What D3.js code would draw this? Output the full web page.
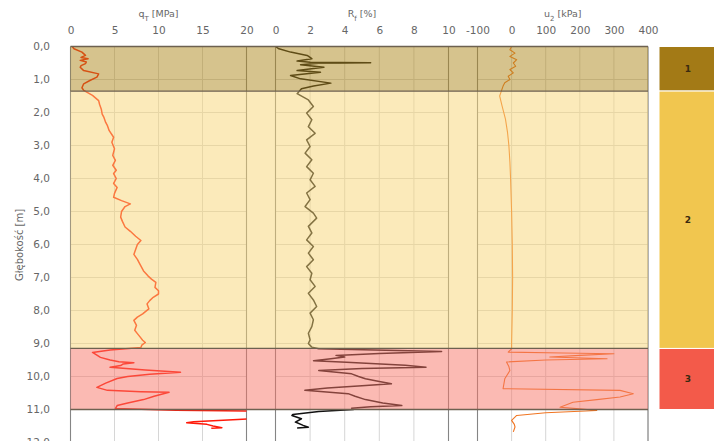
<!DOCTYPE html>
<html>
<head>
<meta charset="utf-8">
<script src="https://cdnjs.cloudflare.com/ajax/libs/d3/7.8.5/d3.min.js"></script>
<style>
body { margin: 0; background: #fff; }
svg text { font-family: "DejaVu Sans", sans-serif; }
</style>
</head>
<body>
<svg id="chart" width="714" height="441"></svg>
<script>
//CPT sounding: [depth m, value]
var qcData = [[0.00,0.2],[0.07,0.4],[0.17,1.3],[0.27,1.7],[0.33,1.2],[0.37,2.0],[0.42,1.1],[0.47,1.8],[0.52,1.7],[0.58,1.2],[0.63,1.1],[0.73,1.5],[0.83,3.2],[0.93,3.0],[1.03,2.2],[1.13,1.5],[1.25,1.3],[1.33,1.5],[1.48,2.5],[1.64,3.2],[1.75,3.3],[1.9,3.5],[2.05,3.6],[2.15,3.8],[2.3,4.0],[2.4,4.2],[2.55,4.4],[2.75,4.9],[2.9,4.7],[3.1,5.0],[3.3,4.8],[3.45,5.1],[3.6,4.8],[3.75,5.2],[3.85,4.9],[4.0,5.2],[4.15,4.9],[4.27,5.3],[4.45,5.0],[4.57,4.9],[4.67,5.8],[4.77,6.8],[4.85,6.2],[5.0,5.8],[5.17,5.7],[5.3,5.9],[5.47,6.2],[5.6,6.8],[5.75,7.4],[5.88,8.0],[6.0,7.6],[6.15,7.4],[6.3,7.2],[6.45,7.6],[6.6,7.9],[6.8,8.3],[6.95,8.8],[7.05,9.2],[7.15,9.7],[7.3,9.6],[7.4,10.0],[7.5,10.0],[7.6,9.4],[7.7,9.0],[7.8,8.7],[7.95,8.9],[8.1,8.2],[8.2,7.6],[8.3,7.2],[8.45,7.5],[8.6,7.3],[8.7,7.6],[8.8,7.9],[8.9,8.2],[8.97,8.5],[9.05,8.1],[9.12,8.0],[9.2,4.5],[9.27,2.5],[9.35,3.0],[9.42,3.4],[9.5,4.5],[9.55,5.5],[9.58,7.2],[9.62,6.0],[9.67,5.7],[9.72,4.5],[9.8,8.5],[9.87,12.5],[9.93,9.0],[10.0,6.5],[10.06,5.3],[10.2,4.0],[10.33,3.0],[10.42,4.2],[10.46,8.0],[10.48,11.2],[10.6,9.5],[10.7,8.3],[10.8,6.5],[10.88,5.3],[10.97,5.1],[11.02,12.0],[11.05,22.0],[11.15,27.0],[11.25,24.0],[11.3,19.0],[11.37,14.0],[11.4,13.2],[11.45,15.5],[11.5,16.2],[11.55,17.2],[11.57,16.0]];

var rfData = [[0.0,0.0],[0.07,0.2],[0.17,0.87],[0.27,1.83],[0.37,2.1],[0.44,1.25],[0.48,2.0],[0.49,5.5],[0.51,2.5],[0.55,1.45],[0.63,2.8],[0.73,1.25],[0.78,2.6],[0.88,0.87],[0.98,1.45],[1.11,3.2],[1.2,2.2],[1.28,1.5],[1.43,1.25],[1.62,1.9],[1.82,2.19],[2.02,1.8],[2.22,2.1],[2.43,1.9],[2.63,2.29],[2.83,1.8],[3.03,2.0],[3.23,1.71],[3.43,2.1],[3.64,1.8],[3.84,2.19],[4.04,2.0],[4.24,2.29],[4.44,1.8],[4.64,2.0],[4.85,1.71],[5.05,2.19],[5.2,2.38],[5.45,1.9],[5.65,2.1],[5.86,1.8],[6.06,2.19],[6.26,1.9],[6.46,2.19],[6.67,1.8],[6.87,2.1],[7.07,2.0],[7.27,2.29],[7.48,1.9],[7.68,2.19],[7.88,2.38],[8.08,2.0],[8.28,2.19],[8.49,2.1],[8.69,1.9],[8.89,2.0],[9.0,1.9],[9.11,2.1],[9.16,2.5],[9.24,9.6],[9.3,6.0],[9.36,3.5],[9.41,4.0],[9.46,3.2],[9.52,2.2],[9.57,4.1],[9.66,7.5],[9.72,8.7],[9.76,5.0],[9.82,2.5],[9.92,4.4],[10.0,4.8],[10.07,5.2],[10.15,6.0],[10.22,6.7],[10.28,5.0],[10.35,3.0],[10.42,1.7],[10.52,4.2],[10.6,4.6],[10.7,5.2],[10.8,6.2],[10.88,7.3],[10.92,5.5],[10.96,4.4],[11.0,4.5],[11.06,2.5],[11.15,1.0],[11.18,0.95],[11.28,1.5],[11.38,1.15],[11.48,1.6],[11.54,1.9],[11.56,1.25]];

var u2Data = [[0.0,0],[0.1,-5],[0.2,10],[0.3,-5],[0.4,15],[0.5,5],[0.6,12],[0.7,-5],[0.8,5],[0.9,-10],[1.0,-5],[1.1,-20],[1.2,-25],[1.35,-30],[1.5,-35],[1.8,-28],[2.2,-18],[2.6,-12],[3.0,-8],[3.5,-5],[4.0,-3],[5.0,0],[6.0,2],[7.0,3],[8.0,2],[9.0,0],[9.16,0],[9.26,-10],[9.29,150],[9.31,300],[9.36,200],[9.41,112],[9.46,280],[9.5,100],[9.56,-15],[9.7,-8],[9.82,-5],[10.07,-20],[10.37,-25],[10.42,318],[10.52,357],[10.62,318],[10.7,250],[10.78,180],[10.93,142],[10.98,200],[11.03,250],[11.1,100],[11.18,15],[11.33,0],[11.45,8],[11.53,10],[11.68,5]];

//soil layers
var layerNames = ["1", "2", "3"];
var layerTop = [0, 1.35, 9.15];
var layerBottom = [1.35, 9.15, 11.0];
var layerColors = ["#a37a16", "#f1c64f", "#f35a4a"];
var bandColors = ["#ad871b", "#f7d575", "#f77567"];

//ticks
var depthTicks = [0,1,2,3,4,5,6,7,8,9,10,11,12];
var qcTicks = [0,5,10,15,20];
var rfTicks = [0,2,4,6,8,10];
var u2Ticks = [-100,0,100,200,300,400];

var svg = d3.select("#chart");

var y = d3.scaleLinear().domain([0, 12]).range([46.5, 442.5]);
var xQc = d3.scaleLinear().domain([0, 20]).range([70.5, 246.5]);
var xRf = d3.scaleLinear().domain([0, 10]).range([275.5, 448.5]);
var xU2 = d3.scaleLinear().domain([-100, 400]).range([477.5, 648]);

var panels = [
    {id: "qc", x: xQc, ticks: qcTicks, data: qcData, color: "#ff1a0a", width: 1.5, title: ["q", "T", " [MPa]"]},
    {id: "rf", x: xRf, ticks: rfTicks, data: rfData, color: "#111", width: 1.5, title: ["R", "f", " [%]"]},
    {id: "u2", x: xU2, ticks: u2Ticks, data: u2Data, color: "#f07522", width: 1.1, title: ["u", "2", " [kPa]"]}
];

var bottom = 450;

panels.forEach(function (p) {
    var x0 = p.x.range()[0], x1 = p.x.range()[1];

    // grid
    svg.append("g").selectAll("line").data(p.ticks).join("line")
        .attr("x1", d => p.x(d)).attr("x2", d => p.x(d))
        .attr("y1", y(0)).attr("y2", bottom)
        .attr("stroke", "#d6d6d6").attr("stroke-width", 1);
    svg.append("g").selectAll("line").data(depthTicks.slice(1)).join("line")
        .attr("x1", x0).attr("x2", x1)
        .attr("y1", d => y(d)).attr("y2", d => y(d))
        .attr("stroke", "#d6d6d6").attr("stroke-width", 1);

    // panel frame
    svg.append("g").selectAll("line").data([x0, x1]).join("line")
        .attr("x1", d => d).attr("x2", d => d)
        .attr("y1", y(0)).attr("y2", bottom)
        .attr("stroke", "#858585").attr("stroke-width", 1.1);

    svg.append("clipPath").attr("id", "clip_" + p.id)
        .append("rect").attr("x", x0).attr("y", y(0) - 2)
        .attr("width", x1 - x0).attr("height", bottom - y(0));

    var line = d3.line()
        .x(d => p.x(d[1]))
        .y(d => y(d[0]));

    svg.append("path").datum(p.data)
        .attr("clip-path", "url(#clip_" + p.id + ")")
        .attr("d", line)
        .attr("fill", "none")
        .attr("stroke", p.color)
        .attr("stroke-width", p.width)
        .attr("stroke-linejoin", "round");

    // tick labels on top
    svg.append("g")
        .attr("transform", "translate(0,34)")
        .call(d3.axisTop(p.x).tickValues(p.ticks).tickSize(0).tickPadding(0).tickFormat(d => String(d)))
        .call(g => g.select(".domain").remove())
        .selectAll("text")
        .style("font-size", "10.5px")
        .style("fill", "#666");

    var t = svg.append("text")
        .attr("x", (x0 + x1) / 2)
        .attr("y", 17)
        .attr("text-anchor", "middle")
        .style("font-size", "9.5px")
        .style("fill", "#666");
    t.append("tspan").text(p.title[0]);
    t.append("tspan").attr("baseline-shift", "sub").style("font-size", "7px").text(p.title[1]);
    t.append("tspan").text(p.title[2]);
});

//layer colours laid over the curves
var bandX0 = xQc.range()[0], bandX1 = xU2.range()[1];
svg.append("g").selectAll("rect").data(layerNames).join("rect")
    .attr("x", bandX0)
    .attr("width", bandX1 - bandX0)
    .attr("y", (d, i) => y(layerTop[i]))
    .attr("height", (d, i) => y(layerBottom[i]) - y(layerTop[i]))
    .attr("fill", (d, i) => bandColors[i])
    .attr("fill-opacity", 0.5);

var bounds = [0].concat(layerBottom);
svg.append("g").selectAll("line").data(bounds).join("line")
    .attr("x1", bandX0).attr("x2", bandX1)
    .attr("y1", d => y(d)).attr("y2", d => y(d))
    .attr("stroke", "#6d6150").attr("stroke-width", 1.3);

// depth axis
svg.append("g")
    .attr("transform", "translate(50,0)")
    .call(d3.axisLeft(y).tickValues(depthTicks).tickSize(0).tickPadding(0)
        .tickFormat(d => d.toFixed(1).replace(".", ",")))
    .call(g => g.select(".domain").remove())
    .selectAll("text")
    .style("font-size", "10.5px")
    .style("fill", "#666");

svg.append("text")
    .attr("transform", "translate(23,245) rotate(-90)")
    .attr("text-anchor", "middle")
    .style("font-size", "10px")
    .style("fill", "#666")
    .text("Głębokość [m]");

// layer column on the right
var col = svg.append("g");
col.selectAll("rect").data(layerNames).join("rect")
    .attr("x", 659)
    .attr("width", 60)
    .attr("y", (d, i) => y(layerTop[i]))
    .attr("height", (d, i) => y(layerBottom[i]) - y(layerTop[i]))
    .attr("fill", (d, i) => layerColors[i])
    .attr("stroke", "#fff")
    .attr("stroke-width", 1);
col.selectAll("text").data(layerNames).join("text")
    .attr("x", 688)
    .attr("y", (d, i) => (y(layerTop[i]) + y(layerBottom[i])) / 2)
    .attr("dy", "0.35em")
    .attr("text-anchor", "middle")
    .style("font-size", "9px")
    .style("font-weight", "bold")
    .style("fill", "#3a2a10")
    .text(d => d);
</script>
</body>
</html>
